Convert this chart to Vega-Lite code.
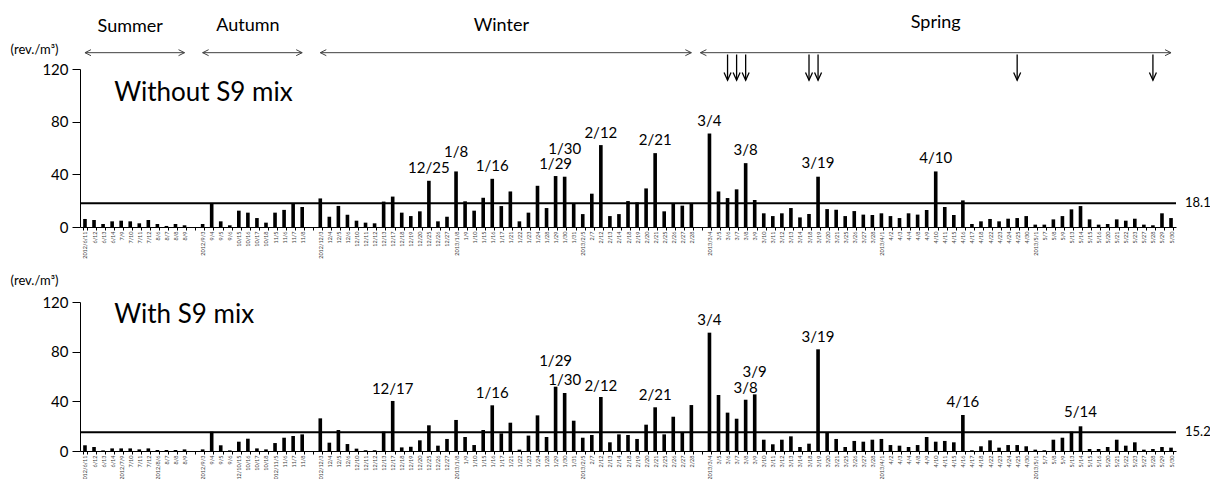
{
  "$schema": "https://vega.github.io/schema/vega-lite/v6.json",
  "padding": {"left": 10, "top": 14, "right": 0, "bottom": 0},
  "config": {"font": "Lato", "view": {"stroke": null}},
  "datasets": {
    "bars": [
      {"d":"2012/6/11","a":6.1,"b":4.6},{"d":"6/12","a":5.3,"b":3.2},{"d":"6/13","a":2.3,"b":0.5},{"d":"6/14","a":4.3,"b":2.1},
      {"d":"7/9","a":4.8,"b":2.1},{"d":"7/10","a":4.3,"b":2.1},{"d":"7/11","a":2.8,"b":1.3},{"d":"7/12","a":5.3,"b":2.1},
      {"d":"8/6","a":2.3,"b":0.8},{"d":"8/7","a":0.8,"b":0.8},{"d":"8/8","a":2.3,"b":0.8},{"d":"8/9","a":1.3,"b":1.3},
      {"d":"2012/9/3","a":2.3,"b":1.3},{"d":"9/4","a":18.2,"b":15.6},{"d":"9/5","a":4.3,"b":4.6},{"d":"9/6","a":1.3,"b":0.5},
      {"d":"10/15","a":12.4,"b":7.5},{"d":"10/16","a":10.9,"b":9.9},{"d":"10/17","a":6.8,"b":2.1},{"d":"10/18","a":3.3,"b":1.3},
      {"d":"11/5","a":10.9,"b":6.4},{"d":"11/6","a":13,"b":10.7},{"d":"11/7","a":18,"b":12.1},{"d":"11/8","a":15.2,"b":13.4},
      {"d":"2012/12/3","a":21.7,"b":26.3},{"d":"12/4","a":7.8,"b":6.7},{"d":"12/5","a":16,"b":16.9},{"d":"12/6","a":9.3,"b":5.6},
      {"d":"12/10","a":4.8,"b":1.9},{"d":"12/11","a":3.3,"b":0.6},{"d":"12/12","a":2.8,"b":0.6},{"d":"12/13","a":19.3,"b":15.6},
      {"d":"12/17","a":23.1,"b":40.3},{"d":"12/18","a":10.9,"b":2.9},{"d":"12/19","a":8.3,"b":3.4},{"d":"12/20","a":11.9,"b":8.6},
      {"d":"12/25","a":35.1,"b":20.7},{"d":"12/26","a":4.3,"b":4.3},{"d":"12/27","a":7.8,"b":9.7},
      {"d":"2013/1/8","a":42.2,"b":25},{"d":"1/9","a":19.5,"b":11.3},{"d":"1/10","a":12.4,"b":4.8},{"d":"1/15","a":22.2,"b":16.9},
      {"d":"1/16","a":36.6,"b":36.8},{"d":"1/17","a":15.9,"b":14.2},{"d":"1/21","a":27,"b":22.8},{"d":"1/22","a":4.3,"b":1.1},
      {"d":"1/23","a":10.9,"b":12.4},{"d":"1/24","a":31.3,"b":28.7},{"d":"1/28","a":14.4,"b":11.3},{"d":"1/29","a":38.7,"b":51.8},
      {"d":"1/30","a":38.2,"b":46.7},{"d":"1/31","a":18.2,"b":24.4},
      {"d":"2013/2/5","a":9.8,"b":10.7},{"d":"2/7","a":25.3,"b":12.9},{"d":"2/12","a":62.2,"b":43.5},{"d":"2/13","a":8.3,"b":7},
      {"d":"2/14","a":9.8,"b":13.4},{"d":"2/18","a":19.7,"b":12.9},{"d":"2/19","a":18.7,"b":9.7},{"d":"2/20","a":29.3,"b":21.2},
      {"d":"2/21","a":56.1,"b":35.2},{"d":"2/25","a":11.9,"b":13.4},{"d":"2/26","a":18.2,"b":27.6},{"d":"2/27","a":16.2,"b":15},
      {"d":"2/28","a":18.2,"b":37},
      {"d":"2013/3/4","a":71,"b":95.3},{"d":"3/5","a":27,"b":45.1},{"d":"3/6","a":22,"b":30.9},{"d":"3/7","a":28.6,"b":26},
      {"d":"3/8","a":48.5,"b":41.3},{"d":"3/9","a":20.5,"b":45.6},{"d":"3/10","a":10.4,"b":9.1},{"d":"3/11","a":8.3,"b":5.4},
      {"d":"3/12","a":10.4,"b":9.1},{"d":"3/13","a":14.4,"b":11.8},{"d":"3/14","a":7.3,"b":3.2},{"d":"3/18","a":9.9,"b":5.9},
      {"d":"3/19","a":38.2,"b":81.9},{"d":"3/20","a":13.6,"b":15},{"d":"3/21","a":13.1,"b":9.7},{"d":"3/25","a":8.3,"b":3.2},
      {"d":"3/26","a":12.1,"b":8.1},{"d":"3/27","a":9.4,"b":7.5},{"d":"3/28","a":9.1,"b":9.1},
      {"d":"2013/4/1","a":10.4,"b":9.7},{"d":"4/2","a":8.3,"b":4.8},{"d":"4/3","a":6.8,"b":4.3},{"d":"4/4","a":10.4,"b":3.2},
      {"d":"4/8","a":9.4,"b":4.8},{"d":"4/9","a":12.9,"b":11.3},{"d":"4/10","a":42.2,"b":7.5},{"d":"4/11","a":15.2,"b":8.1},
      {"d":"4/15","a":9.1,"b":7},{"d":"4/16","a":20.2,"b":29},{"d":"4/17","a":2.3,"b":0.6},{"d":"4/18","a":4.3,"b":3.8},
      {"d":"4/22","a":6.1,"b":8.6},{"d":"4/23","a":4.3,"b":2.7},{"d":"4/24","a":6.3,"b":4.8},{"d":"4/25","a":6.8,"b":4.8},
      {"d":"4/30","a":8.3,"b":3.8},{"d":"2013/5/1","a":1.8,"b":1.1},{"d":"5/7","a":1.8,"b":0.6},{"d":"5/8","a":5.8,"b":9.1},
      {"d":"5/9","a":8.3,"b":10.7},{"d":"5/13","a":13.4,"b":15.6},{"d":"5/14","a":15.9,"b":19.9},{"d":"5/15","a":5.8,"b":1.6},
      {"d":"5/16","a":1.8,"b":1.6},{"d":"5/20","a":2.3,"b":3.2},{"d":"5/21","a":5.8,"b":9.1},{"d":"5/22","a":4.8,"b":4.3},
      {"d":"5/23","a":6.3,"b":7},{"d":"5/27","a":1.8,"b":1.1},{"d":"5/28","a":1.3,"b":1.6},{"d":"5/29","a":10.4,"b":3.2},
      {"d":"5/30","a":6.8,"b":2.7}
    ],
    "labels": [
      {"p":"a","d":"12/25","t":"12/25","v":40.9},{"p":"a","d":"2013/1/8","t":"1/8","v":53.1},{"p":"a","d":"1/16","t":"1/16","v":42.7},
      {"p":"a","d":"1/29","t":"1/29","v":44},{"p":"a","d":"1/30","t":"1/30","v":55.3},{"p":"a","d":"2/12","t":"2/12","v":67.5},
      {"p":"a","d":"2/21","t":"2/21","v":62.2},{"p":"a","d":"2013/3/4","t":"3/4","v":76.8},{"p":"a","d":"3/8","t":"3/8","v":54.6},
      {"p":"a","d":"3/19","t":"3/19","v":44.5},{"p":"a","d":"4/10","t":"4/10","v":48.3},
      {"p":"b","d":"12/17","t":"12/17","v":45.7},{"p":"b","d":"1/16","t":"1/16","v":42.9},{"p":"b","d":"1/29","t":"1/29","v":68.5},
      {"p":"b","d":"1/30","t":"1/30","v":53.2},{"p":"b","d":"2/12","t":"2/12","v":48.3},{"p":"b","d":"2/21","t":"2/21","v":41.1},
      {"p":"b","d":"2013/3/4","t":"3/4","v":101.5},{"p":"b","d":"3/8","t":"3/8","v":46.5},{"p":"b","d":"3/9","t":"3/9","v":59.9},
      {"p":"b","d":"3/19","t":"3/19","v":87.5},{"p":"b","d":"4/16","t":"4/16","v":35.2},{"p":"b","d":"5/14","t":"5/14","v":27.1}
    ],
    "seasons": [
      {"s":"Summer","a":"2012/6/11","b":"8/9","c":"7/10","ty":148,"ay":132.4},
      {"s":"Autumn","a":"2012/9/3","b":"11/8","c":"10/16","ty":148.5,"ay":132.4},
      {"s":"Winter","a":"2012/12/3","b":"2/28","c":"1/17","ty":149,"ay":132.4},
      {"s":"Spring","a":"   ","b":"5/30","c":"4/10","ty":151,"ay":132.4}
    ],
    "dust": [
      {"d":"3/6","y1":131,"y2":111.5},{"d":"3/7","y1":131,"y2":111.5},{"d":"3/8","y1":131,"y2":111.5},
      {"d":"3/18","y1":131,"y2":111.5},{"d":"3/19","y1":131,"y2":111.5},{"d":"4/25","y1":131,"y2":111.5},{"d":"5/28","y1":131,"y2":111.5}
    ]
  },
  "spacing": 15,
  "vconcat": [
    {
      "width": 1096,
      "height": 158,
      "encoding": {
        "x": {
          "field": "d", "type": "ordinal",
          "scale": {"type": "band", "paddingInner": 0.6, "paddingOuter": 0.35,
            "domain": ["2012/6/11","6/12","6/13","6/14","7/9","7/10","7/11","7/12","8/6","8/7","8/8","8/9"," ","2012/9/3","9/4","9/5","9/6","10/15","10/16","10/17","10/18","11/5","11/6","11/7","11/8","  ","2012/12/3","12/4","12/5","12/6","12/10","12/11","12/12","12/13","12/17","12/18","12/19","12/20","12/25","12/26","12/27","2013/1/8","1/9","1/10","1/15","1/16","1/17","1/21","1/22","1/23","1/24","1/28","1/29","1/30","1/31","2013/2/5","2/7","2/12","2/13","2/14","2/18","2/19","2/20","2/21","2/25","2/26","2/27","2/28","   ","2013/3/4","3/5","3/6","3/7","3/8","3/9","3/10","3/11","3/12","3/13","3/14","3/18","3/19","3/20","3/21","3/25","3/26","3/27","3/28","2013/4/1","4/2","4/3","4/4","4/8","4/9","4/10","4/11","4/15","4/16","4/17","4/18","4/22","4/23","4/24","4/25","4/30","2013/5/1","5/7","5/8","5/9","5/13","5/14","5/15","5/16","5/20","5/21","5/22","5/23","5/27","5/28","5/29","5/30"]},
          "axis": {"title": null, "labelAngle": -90, "labelFontSize": 5.5, "labelColor": "#404040", "labelOverlap": false, "labelPadding": 1, "labelBound": false, "labelFlush": false, "domainColor": "#000", "tickColor": "#000", "tickBand": "extent", "tickSize": 3}
        }
      },
      "layer": [
        {
          "data": {"name": "bars"},
          "mark": {"type": "bar", "color": "#000"},
          "encoding": {
            "y": {"field": "a", "type": "quantitative",
              "scale": {"domain": [0, 120], "nice": false},
              "axis": {"values": [0, 40, 80, 120], "grid": false, "domainColor": "#000", "tickColor": "#000", "tickSize": 8, "labelFontSize": 15, "labelColor": "#000", "labelPadding": 4,
                "title": "(rev./m³)", "titleAngle": 0, "titleX": -46, "titleY": -20, "titleAlign": "center", "titleBaseline": "middle", "titleFontSize": 13, "titleFontWeight": "normal", "titleColor": "#000"}}
          }
        },
        {
          "data": {"values": [{"v": 18.1, "d": "5/30"}]},
          "layer": [
            {"mark": {"type": "rule", "color": "#000", "strokeWidth": 2}, "encoding": {"y": {"field": "v", "type": "quantitative"}, "x": null}},
            {"mark": {"type": "text", "align": "left", "baseline": "middle", "dx": 14, "fontSize": 13, "color": "#000"},
             "encoding": {"y": {"field": "v", "type": "quantitative"}, "text": {"field": "v", "type": "quantitative", "format": ".1f"}}}
          ]
        },
        {
          "data": {"name": "labels"},
          "transform": [{"filter": "datum.p == 'a'"}],
          "mark": {"type": "text", "fontSize": 15, "baseline": "alphabetic", "align": "center", "color": "#000"},
          "encoding": {"y": {"field": "v", "type": "quantitative"}, "text": {"field": "t"}}
        },
        {
          "data": {"values": [{"d": "6/14", "t": "Without S9 mix", "v": 96}]},
          "mark": {"type": "text", "fontSize": 26, "baseline": "alphabetic", "align": "left", "dx": 2, "color": "#000"},
          "encoding": {"y": {"field": "v", "type": "quantitative"}, "text": {"field": "t"}}
        },
        {
          "data": {"name": "seasons"},
          "mark": {"type": "rule", "color": "#404040", "strokeWidth": 1},
          "encoding": {"x": {"field": "a", "type": "ordinal"}, "x2": {"field": "b"}, "y": {"field": "ay", "type": "quantitative"}}
        },
        {
          "data": {"name": "seasons"},
          "mark": {"type": "point", "shape": "M2,-1L0,0L2,1", "filled": false, "size": 36, "stroke": "#404040", "strokeWidth": 1, "opacity": 1},
          "encoding": {"x": {"field": "a", "type": "ordinal"}, "y": {"field": "ay", "type": "quantitative"}}
        },
        {
          "data": {"name": "seasons"},
          "mark": {"type": "point", "shape": "M-2,-1L0,0L-2,1", "filled": false, "size": 36, "stroke": "#404040", "strokeWidth": 1, "opacity": 1},
          "encoding": {"x": {"field": "b", "type": "ordinal"}, "y": {"field": "ay", "type": "quantitative"}}
        },
        {
          "data": {"name": "seasons"},
          "mark": {"type": "text", "fontSize": 18, "baseline": "alphabetic", "align": "center", "color": "#000"},
          "encoding": {"x": {"field": "c", "type": "ordinal"}, "y": {"field": "ty", "type": "quantitative"}, "text": {"field": "s"}}
        },
        {
          "data": {"name": "dust"},
          "mark": {"type": "rule", "color": "#000", "strokeWidth": 1.3},
          "encoding": {"y": {"field": "y1", "type": "quantitative"}, "y2": {"field": "y2"}}
        },
        {
          "data": {"name": "dust"},
          "mark": {"type": "point", "shape": "M-1,-2.2L0,0L1,-2.2", "filled": false, "size": 49, "stroke": "#000", "strokeWidth": 1.3, "opacity": 1},
          "encoding": {"y": {"field": "y2", "type": "quantitative"}}
        }
      ]
    },
    {
      "width": 1096,
      "height": 149,
      "encoding": {
        "x": {
          "field": "d", "type": "ordinal",
          "scale": {"type": "band", "paddingInner": 0.6, "paddingOuter": 0.35,
            "domain": ["2012/6/11","6/12","6/13","6/14","7/9","7/10","7/11","7/12","8/6","8/7","8/8","8/9"," ","2012/9/3","9/4","9/5","9/6","10/15","10/16","10/17","10/18","11/5","11/6","11/7","11/8","  ","2012/12/3","12/4","12/5","12/6","12/10","12/11","12/12","12/13","12/17","12/18","12/19","12/20","12/25","12/26","12/27","2013/1/8","1/9","1/10","1/15","1/16","1/17","1/21","1/22","1/23","1/24","1/28","1/29","1/30","1/31","2013/2/5","2/7","2/12","2/13","2/14","2/18","2/19","2/20","2/21","2/25","2/26","2/27","2/28","   ","2013/3/4","3/5","3/6","3/7","3/8","3/9","3/10","3/11","3/12","3/13","3/14","3/18","3/19","3/20","3/21","3/25","3/26","3/27","3/28","2013/4/1","4/2","4/3","4/4","4/8","4/9","4/10","4/11","4/15","4/16","4/17","4/18","4/22","4/23","4/24","4/25","4/30","2013/5/1","5/7","5/8","5/9","5/13","5/14","5/15","5/16","5/20","5/21","5/22","5/23","5/27","5/28","5/29","5/30"]},
          "axis": {"title": null, "labelAngle": -90, "labelFontSize": 5.5, "labelColor": "#404040", "labelOverlap": false, "labelPadding": 1, "labelBound": false, "labelFlush": false, "domainColor": "#000", "tickColor": "#000", "tickBand": "extent", "tickSize": 3,
            "labelExpr": "datum.value == '7/9' ? '2012/7/9' : datum.value == '8/6' ? '2012/8/6' : datum.value == '10/15' ? '2012/10/15' : datum.value == '11/5' ? '2012/11/5' : datum.value"}
        }
      },
      "layer": [
        {
          "data": {"name": "bars"},
          "mark": {"type": "bar", "color": "#000"},
          "encoding": {
            "y": {"field": "b", "type": "quantitative",
              "scale": {"domain": [0, 120], "nice": false},
              "axis": {"values": [0, 40, 80, 120], "grid": false, "domainColor": "#000", "tickColor": "#000", "tickSize": 8, "labelFontSize": 15, "labelColor": "#000", "labelPadding": 4,
                "title": "(rev./m³)", "titleAngle": 0, "titleX": -46, "titleY": -22, "titleAlign": "center", "titleBaseline": "middle", "titleFontSize": 13, "titleFontWeight": "normal", "titleColor": "#000"}}
          }
        },
        {
          "data": {"values": [{"v": 15.2, "d": "5/30"}]},
          "layer": [
            {"mark": {"type": "rule", "color": "#000", "strokeWidth": 2}, "encoding": {"y": {"field": "v", "type": "quantitative"}, "x": null}},
            {"mark": {"type": "text", "align": "left", "baseline": "middle", "dx": 14, "fontSize": 13, "color": "#000"},
             "encoding": {"y": {"field": "v", "type": "quantitative"}, "text": {"field": "v", "type": "quantitative", "format": ".1f"}}}
          ]
        },
        {
          "data": {"name": "labels"},
          "transform": [{"filter": "datum.p == 'b'"}],
          "mark": {"type": "text", "fontSize": 15, "baseline": "alphabetic", "align": "center", "color": "#000"},
          "encoding": {"y": {"field": "v", "type": "quantitative"}, "text": {"field": "t"}}
        },
        {
          "data": {"values": [{"d": "6/14", "t": "With S9 mix", "v": 103}]},
          "mark": {"type": "text", "fontSize": 26, "baseline": "alphabetic", "align": "left", "dx": 2, "color": "#000"},
          "encoding": {"y": {"field": "v", "type": "quantitative"}, "text": {"field": "t"}}
        }
      ]
    }
  ]
}
